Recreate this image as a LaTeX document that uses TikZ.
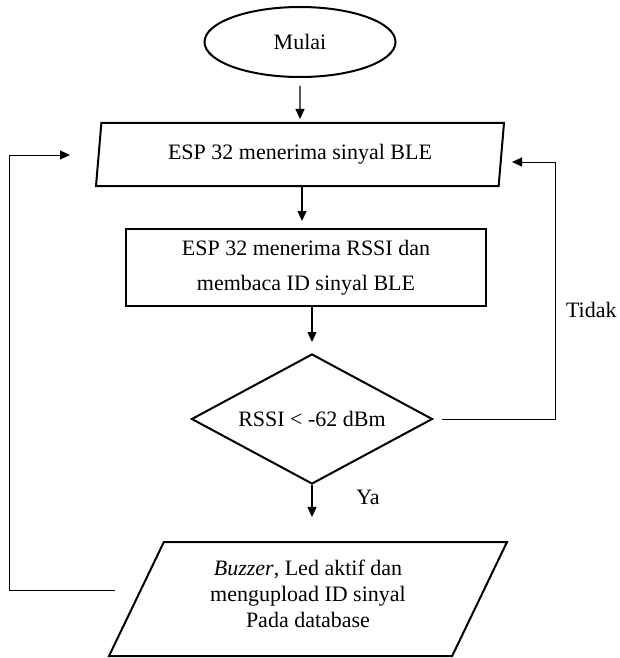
\documentclass[tikz,border=0pt]{standalone}
\usepackage{fontspec}
\setmainfont{Liberation Serif}
\usetikzlibrary{shapes.geometric,arrows.meta}

\begin{document}
\begin{tikzpicture}[x=0.5pt,y=-0.5pt,font=\fontsize{11}{13}\selectfont,
  >={Triangle[length=5pt,width=4.5pt]},
  blok/.style={draw,line width=1pt,inner sep=0pt},
  panah/.style={->,line width=0.6pt},
  balik/.style={->,line width=0.5pt}]
\useasboundingbox (0,0) rectangle (620,658);
\node[blok,ellipse,minimum width=95.5pt,minimum height=35pt] (mulai) at (300,42) {Mulai};
\node[blok,trapezium,trapezium left angle=75,trapezium right angle=105,trapezium stretches body,minimum width=204pt,minimum height=31.5pt] (terima) at (300,154.5) {ESP 32 menerima sinyal BLE};
\node[blok,rectangle,align=center,minimum width=180pt,minimum height=38.5pt,font=\fontsize{11}{17.5}\selectfont] (baca) at (306,267.5) {ESP 32 menerima RSSI dan\\membaca ID sinyal BLE};
\node[blok,diamond,aspect=1.85,minimum width=120.5pt,minimum height=65pt] (cek) at (312,419) {RSSI < -62 dBm};
\node[blok,trapezium,trapezium left angle=55,trapezium right angle=125,trapezium stretches body,align=center,minimum width=199pt,minimum height=57pt] (upload) at (308,599) {\textit{Buzzer}, Led aktif dan\\mengupload ID sinyal\\Pada database\\[-1.5ex]};
\node[anchor=east,inner sep=0pt] (tidak) at (617,310) {Tidak};
\node (ya) at (368,497) {Ya};
\coordinate (kiriAwal) at (115,590);
\coordinate (kiriSudut) at (9,590);
\coordinate (kiriUjung) at (70,155);
\coordinate (kananSudut) at (555,162);
\coordinate (kananUjung) at (512,162);

\draw[panah,shorten <=4pt,shorten >=1.5pt] (mulai.south) -- (terima.north);
\draw[panah,shorten >=3.5pt] ([xshift=1pt]terima.south) -- ([xshift=1pt]terima.south |- baca.north);
\draw[panah,shorten >=5.5pt] (baca.south -| cek.north) -- (cek.north);
\draw[panah,shorten >=12pt] (cek.south) -- (cek.south |- upload.north);
\draw[balik] ([xshift=4pt]cek.east) -| (kananSudut) -- (kananUjung);
\draw[balik] (kiriAwal) -- (kiriSudut) |- (kiriUjung);
\end{tikzpicture}
\end{document}
